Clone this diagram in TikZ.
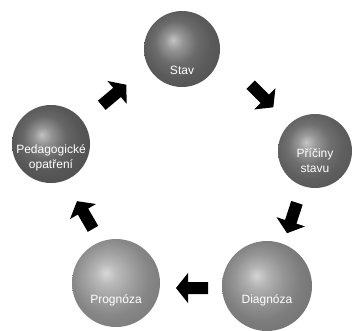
\documentclass[tikz,border=0pt]{standalone}
\usepackage{fontspec}
\setmainfont{Liberation Sans}
\colorlet{sphc}{gray}
\pgfdeclareradialshading[sphc]{sphereshade}{\pgfpoint{-6bp}{6bp}}{%
  color(0bp)=(sphc!40!white);
  color(6bp)=(sphc!72!white);
  color(14bp)=(sphc);
  color(22bp)=(sphc!85!black);
  color(28bp)=(sphc!80!black);
  color(34bp)=(sphc!97!white);
  color(50bp)=(sphc!97!white)}
\tikzset{
  sphcolor/.code={\colorlet{sphc}{#1}},
  sphere/.style={circle, shading=sphereshade, inner sep=0pt, minimum size=#1},
  lbl/.style={text=white, font=\fontsize{12}{15}\selectfont, align=center, inner sep=0pt},
  blockarr/.pic={\fill[black] (-16,-6) -- (4,-6) -- (4,-15) -- (16,0) -- (4,15) -- (4,6) -- (-16,6) -- cycle;}
}
\begin{document}
\begin{tikzpicture}[x=1pt,y=-1pt]
\useasboundingbox[fill=white] (0,0) rectangle (356,330);
% spheres
\node[sphere=76pt, sphcolor=black!58] (stav) at (182,49) {};
\node[sphere=74pt, sphcolor=black!56] (pric) at (315,151) {};
\node[sphere=78pt, sphcolor=black!60] (ped) at (51,144) {};
\node[sphere=88pt, sphcolor=black!38] (prog) at (116,283) {};
\node[sphere=90pt, sphcolor=black!42] (diag) at (267,286) {};
% labels
\node[lbl] (stavt) at ([yshift=-21pt]stav.center) {Stav};
\node[lbl] (prict) at ([yshift=-10pt]pric.center) {Příčiny\\stavu};
\node[lbl] (pedt) at ([yshift=-14pt]ped.center) {Pedagogické\\opatření};
\node[lbl] (progt) at ([yshift=-17pt]prog.center) {Prognóza};
\node[lbl] (diagt) at ([yshift=-14pt]diag.center) {Diagnóza};
% arrows
\pic[rotate=40] (a1) at (114,95) {blockarr};
\pic[rotate=-45] (a2) at (262,96) {blockarr};
\pic[rotate=-108] (a3) at (292,218) {blockarr};
\pic[rotate=180] (a4) at (192,288) {blockarr};
\pic[rotate=120] (a5) at (85,215) {blockarr};
\end{tikzpicture}
\end{document}
